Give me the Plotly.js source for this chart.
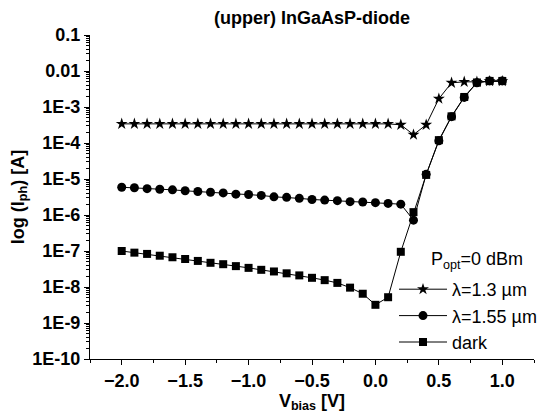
<!DOCTYPE html>
<html>
<head>
<meta charset="utf-8">
<script src="https://cdn.plot.ly/plotly-3.0.1.min.js"></script>
<style>html,body{margin:0;padding:0;background:#fff;}#chart{width:544px;height:416px;}</style>
</head>
<body>
<div id="chart"></div>
<script>
const vbias = [-2.0,-1.9,-1.8,-1.7,-1.6,-1.5,-1.4,-1.3,-1.2,-1.1,-1.0,-0.9,-0.8,-0.7,-0.6,-0.5,-0.4,-0.3,-0.2,-0.1,0.0,0.1,0.2,0.3,0.4,0.5,0.6,0.7,0.8,0.9,1.0];

const i13 = [3.4e-4,3.4e-4,3.4e-4,3.4e-4,3.4e-4,3.4e-4,3.4e-4,3.4e-4,3.4e-4,3.4e-4,3.4e-4,3.4e-4,3.4e-4,3.4e-4,3.4e-4,3.4e-4,3.4e-4,3.4e-4,3.4e-4,3.4e-4,3.4e-4,3.4e-4,3.2e-4,1.7e-4,3.2e-4,1.7e-3,4.7e-3,5.0e-3,5.0e-3,5.2e-3,5.2e-3];

const i155 = [5.9e-6,5.7e-6,5.4e-6,5.2e-6,5.0e-6,4.7e-6,4.5e-6,4.3e-6,4.1e-6,3.8e-6,3.7e-6,3.5e-6,3.2e-6,3.1e-6,2.9e-6,2.7e-6,2.6e-6,2.5e-6,2.35e-6,2.3e-6,2.2e-6,2.1e-6,2.0e-6,7.2e-7,1.35e-5,1.15e-4,5.4e-4,1.85e-3,4.7e-3,5.3e-3,5.3e-3];

const idark = [1.0e-7,9.0e-8,8.3e-8,7.4e-8,6.7e-8,6.0e-8,5.3e-8,4.7e-8,4.3e-8,3.8e-8,3.4e-8,3.0e-8,2.7e-8,2.4e-8,2.1e-8,1.8e-8,1.55e-8,1.3e-8,9.6e-9,6.5e-9,3.2e-9,5.2e-9,9.5e-8,1.2e-6,1.3e-5,1.2e-4,5.5e-4,1.9e-3,4.8e-3,5.3e-3,5.3e-3];

const seriesNames = ["λ=1.3 µm", "λ=1.55 µm", "dark"];
const yTickVals = [0.1,0.01,1e-3,1e-4,1e-5,1e-6,1e-7,1e-8,1e-9,1e-10];
const yTickText = ["0.1","0.01","1E-3","1E-4","1E-5","1E-6","1E-7","1E-8","1E-9","1E-10"];

// minor log ticks (2..9 within each decade)
const yMinor = [];
for (let e = -10; e <= -2; e++) {
  for (let d = 2; d <= 9; d++) yMinor.push(d * Math.pow(10, e));
}

const FONT = "Liberation Sans, Arial, sans-serif";
const lineStyle = {color:'#000', width:1};

const traces = [
  {x: vbias, y: i13, name: seriesNames[0], mode:'lines+markers', line: lineStyle,
   marker:{symbol:'star', size:9, color:'#000'}},
  {x: vbias, y: i155, name: seriesNames[1], mode:'lines+markers', line: lineStyle,
   marker:{symbol:'circle', size:9, color:'#000'}},
  {x: vbias, y: idark, name: seriesNames[2], mode:'lines+markers', line: lineStyle,
   marker:{symbol:'square', size:8, color:'#000'}}
];

const PL = 90, PT = 35, PW = 444, PH = 324;
const layout = {
  width: 544, height: 416,
  margin: {l:PL, r:10, t:PT, b:57, pad:0, autoexpand:false},
  paper_bgcolor:'#fff', plot_bgcolor:'#fff',
  font: {family: FONT, color:'#000'},
  showlegend: true,
  title: {text:'(upper) InGaAsP-diode', font:{family:FONT, size:18, weight:'bold', color:'#000'},
          x:0.5, xref:'paper', y:0.957, yanchor:'middle'},
  xaxis: {
    range:[-2.25, 1.25], tickmode:'linear', tick0:0, dtick:0.5, tickformat:'.1f',
    showgrid:false, zeroline:false, showline:true, linecolor:'#000', linewidth:1,
    ticks:'outside', ticklen:5, tickcolor:'#000',
    minor:{ticks:'outside', ticklen:3, dtick:0.25, tickcolor:'#000', showgrid:false},
    tickfont:{family:FONT, size:18, weight:'bold', color:'#000'},
    title:{text:'V<sub>bias</sub> [V]', font:{family:FONT, size:18, weight:'bold', color:'#000'}, standoff:4}
  },
  yaxis: {
    type:'log', range:[-10, -1], tickmode:'array', tickvals:yTickVals, ticktext:yTickText,
    showgrid:false, zeroline:false, showline:true, linecolor:'#000', linewidth:1,
    ticks:'outside', ticklen:5, tickcolor:'#000',
    minor:{tickmode:'array', tickvals:yMinor, ticks:'outside', ticklen:3, tickcolor:'#000', showgrid:false},
    tickfont:{family:FONT, size:18, weight:'bold', color:'#000'},
    title:{text:'log (I<sub>ph</sub>) [A]', font:{family:FONT, size:18, weight:'bold', color:'#000'}, standoff:3}
  },
  legend: {
    x:(394-PL)/PW, xanchor:'left', y:(PT+PH-271)/PH, yanchor:'top',
    bgcolor:'rgba(0,0,0,0)', borderwidth:0, itemwidth:48,
    font:{family:FONT, size:18, color:'#000'},
    tracegroupgap:0
  },
  annotations: [
    {text:'P<sub>opt</sub>=0 dBm', xref:'paper', yref:'paper', x:(429-PL)/PW, y:(PT+PH-260)/PH,
     xanchor:'left', yanchor:'middle', showarrow:false, font:{family:FONT, size:18, color:'#000'}}
  ]
};

Plotly.newPlot('chart', traces, layout, {displayModeBar:false, staticPlot:true});
</script>
</body>
</html>
